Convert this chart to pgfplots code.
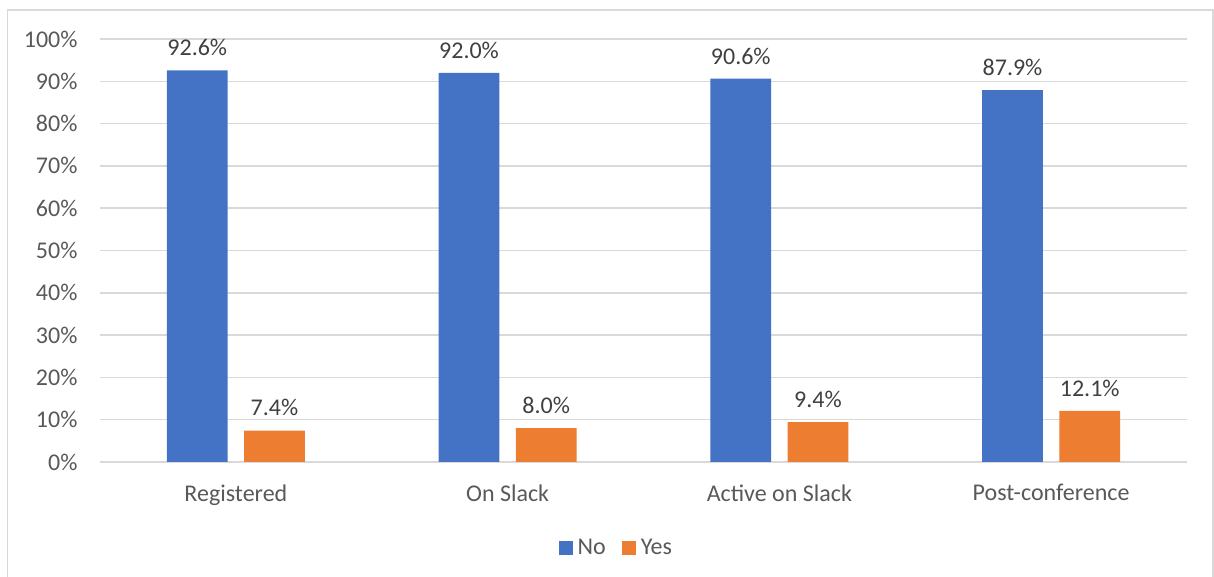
\documentclass[border=0pt]{standalone}
\usepackage{pgfplots}
\pgfplotsset{compat=1.18}
\usepackage{fontspec}
\setmainfont{Carlito}
\definecolor{cblue}{HTML}{4472C4}
\definecolor{corange}{HTML}{ED7D31}
\definecolor{cgrid}{HTML}{D9D9D9}
\definecolor{ctext}{HTML}{595959}
\definecolor{clabel}{HTML}{404040}
\begin{document}
\begin{tikzpicture}[x=1bp,y=1bp]
\path[use as bounding box] (0,0) rectangle (1214,577);
\draw[cgrid, line width=1.5bp] (7.5,-10) rectangle (1213,567);
\begin{axis}[
  at={(100bp,115bp)}, anchor=south west,
  scale only axis, width=1087bp, height=423bp,
  xmin=-0.5, xmax=3.5, ymin=0, ymax=100,
  ybar, bar width=0.224, 
  axis line style={draw=none},
  ymajorgrids, grid style={cgrid, line width=1.5bp},
  major tick length=0,
  ytick={0,10,...,100},
  yticklabels={0\%,10\%,20\%,30\%,40\%,50\%,60\%,70\%,80\%,90\%,100\%},
  xtick={0,1,2,3},
  xticklabels={Registered,On Slack,Active on Slack,Post-conference},
  tick label style={font=\fontsize{24bp}{28bp}\selectfont, text=ctext},
  yticklabel style={xshift=-19bp},
  xticklabel style={yshift=-19bp},
  /pgf/number format/assume math mode=true,
  nodes near coords={\pgfmathprintnumber[fixed,fixed zerofill,precision=1]{\pgfplotspointmeta}\%},
  nodes near coords style={font=\fontsize{24bp}{28bp}\selectfont, text=clabel, anchor=south, yshift=11bp},
  legend style={at={(0.475,-0.203)}, anchor=center, draw=none, legend columns=2,
    font=\fontsize{24bp}{28bp}\selectfont, text=ctext,
    /tikz/every even column/.append style={column sep=14bp},
    /tikz/every odd column/.append style={column sep=3bp}},
  legend image code/.code={\fill[#1] (0bp,-7bp) rectangle (14bp,7bp);},
]
\addplot[fill=cblue, draw=none, bar shift=-0.142] coordinates {(0,92.6) (1,92.0) (2,90.6) (3,87.9)};
\addplot[fill=corange, draw=none, bar shift=0.142] coordinates {(0,7.4) (1,8.0) (2,9.4) (3,12.1)};
\legend{No,Yes}
\end{axis}
\end{tikzpicture}
\end{document}
